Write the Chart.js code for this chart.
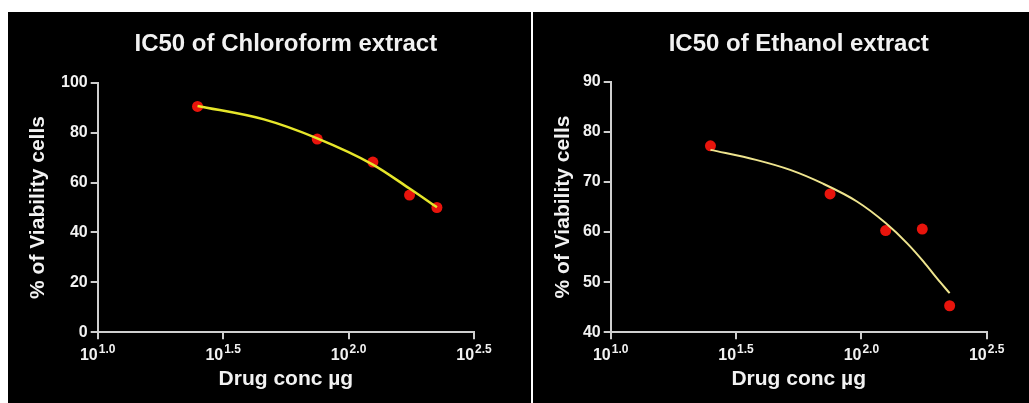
<!DOCTYPE html>
<html>
<head>
<meta charset="utf-8">
<script src="https://cdn.jsdelivr.net/npm/chart.js@4.4.1/dist/chart.umd.min.js"></script>
<style>
  body { margin: 0; background: #fff; width: 1029px; height: 403px; position: relative; overflow: hidden; }
  .panel { position: absolute; top: 12px; height: 391px; background: #000; }
  #p1 { left: 8px; width: 523px; }
  #p2 { left: 533px; width: 496px; }
  canvas { display: block; }
</style>
</head>
<body>
<div class="panel" id="p1"><canvas id="chloroChart" width="523" height="391"></canvas></div>
<div class="panel" id="p2"><canvas id="ethanolChart" width="496" height="391"></canvas></div>
<script>
// measured points (drug concentration, ug)
const concentrations = [25, 75, 125, 175, 225];
const chloroformViability = [90.5, 77.4, 68.2, 55.0, 50.0];
const ethanolViability = [77.2, 67.6, 60.3, 60.6, 45.3];

// fitted curves
const chloroformFitConc = [25, 46, 75, 125, 175, 225];
const chloroformFit = [90.7, 85.3, 77.7, 67.2, 57.6, 50.1];
const ethanolFitConc = [25, 38, 52, 70, 96, 125, 152, 177, 200, 225];
const ethanolFit = [76.4, 74.4, 72.4, 69.7, 66.1, 61.8, 57.8, 54.1, 50.8, 47.8];

// x axis ticks as powers of ten
const xTickExponents = [1.0, 1.5, 2.0, 2.5];
const chloroYTicks = [0, 100, 20];
const ethanolYTicks = [40, 90, 10];

const FONT = "Arial, 'Liberation Sans', sans-serif";
const TEXT = '#f2f2f2';
const AXIS = '#cfcfcf';

const powerLabels = {
  id: 'powerLabels',
  afterDraw(chart) {
    const xs = chart.scales.x;
    const ctx = chart.ctx;
    const baseY = chart.chartArea.bottom + 28;
    ctx.save();
    ctx.fillStyle = TEXT;
    ctx.textBaseline = 'alphabetic';
    ctx.textAlign = 'left';
    xTickExponents.forEach(e => {
      const px = xs.getPixelForValue(Math.pow(10, e));
      const sup = e.toFixed(1);
      ctx.font = 'bold 16px ' + FONT;
      const wb = ctx.measureText('10').width;
      ctx.font = 'bold 12px ' + FONT;
      const ws = ctx.measureText(sup).width;
      const start = px - (wb + 1 + ws) / 2;
      ctx.font = 'bold 16px ' + FONT;
      ctx.fillText('10', start, baseY);
      ctx.font = 'bold 12px ' + FONT;
      ctx.fillText(sup, start + wb + 1, baseY - 7);
    });
    ctx.restore();
  }
};

function makeChart(id, title, pts, fitX, fit, yTicks, lineColor, geo) {
  new Chart(document.getElementById(id), {
    type: 'scatter',
    data: {
      datasets: [
        {
          data: fitX.map((c, i) => ({ x: c, y: fit[i] })),
          showLine: true,
          borderColor: lineColor,
          borderWidth: geo.lineWidth,
          pointRadius: 0,
          cubicInterpolationMode: 'monotone',
          fill: false
        },
        {
          data: concentrations.map((c, i) => ({ x: c, y: pts[i] })),
          pointRadius: 5.5,
          pointBackgroundColor: '#e8140c',
          pointBorderWidth: 0,
          showLine: false
        }
      ]
    },
    options: {
      responsive: false,
      animation: false,
      events: [],
      layout: { padding: { left: 0, right: geo.padRight, top: 0, bottom: 0 } },
      plugins: {
        legend: { display: false },
        tooltip: { enabled: false },
        title: {
          display: true,
          text: title,
          color: TEXT,
          fullSize: false,
          font: { family: FONT, size: 24, weight: 'bold' },
          padding: { top: 17.6, bottom: geo.titleBottom }
        }
      },
      scales: {
        x: {
          type: 'logarithmic',
          min: 10,
          max: Math.pow(10, 2.5),
          afterBuildTicks: s => { s.ticks = xTickExponents.map(e => ({ value: Math.pow(10, e) })); },
          afterFit: s => { s.height = 70.7; },
          ticks: { display: false },
          grid: { drawOnChartArea: false, drawTicks: true, tickLength: 7, color: AXIS, lineWidth: 2 },
          border: { display: true, color: AXIS, width: 2 },
          title: {
            display: true,
            text: 'Drug conc µg',
            color: TEXT,
            font: { family: FONT, size: 21, weight: 'bold' },
            padding: { top: 0, bottom: 10.9 }
          }
        },
        y: {
          min: yTicks[0],
          max: yTicks[1],
          afterFit: s => { s.width = geo.yWidth; },
          ticks: {
            stepSize: yTicks[2],
            color: TEXT,
            padding: 3,
            font: { family: FONT, size: 16, weight: 'bold' }
          },
          grid: { drawOnChartArea: false, drawTicks: true, tickLength: 7, color: AXIS, lineWidth: 2 },
          border: { display: true, color: AXIS, width: 2 },
          title: {
            display: true,
            text: '% of Viability cells',
            color: TEXT,
            font: { family: FONT, size: 21, weight: 'bold' },
            padding: { top: 17.4, bottom: 0 }
          }
        }
      }
    },
    plugins: [powerLabels]
  });
}

makeChart('chloroChart', 'IC50 of Chloroform extract', chloroformViability, chloroformFitConc, chloroformFit,
  chloroYTicks, '#e6e62a', { padRight: 57, yWidth: 89.7, titleBottom: 24.3, lineWidth: 2.5 });
makeChart('ethanolChart', 'IC50 of Ethanol extract', ethanolViability, ethanolFitConc, ethanolFit,
  ethanolYTicks, '#eee48e', { padRight: 42.3, yWidth: 77.7, titleBottom: 23.3, lineWidth: 2 });
</script>
</body>
</html>
